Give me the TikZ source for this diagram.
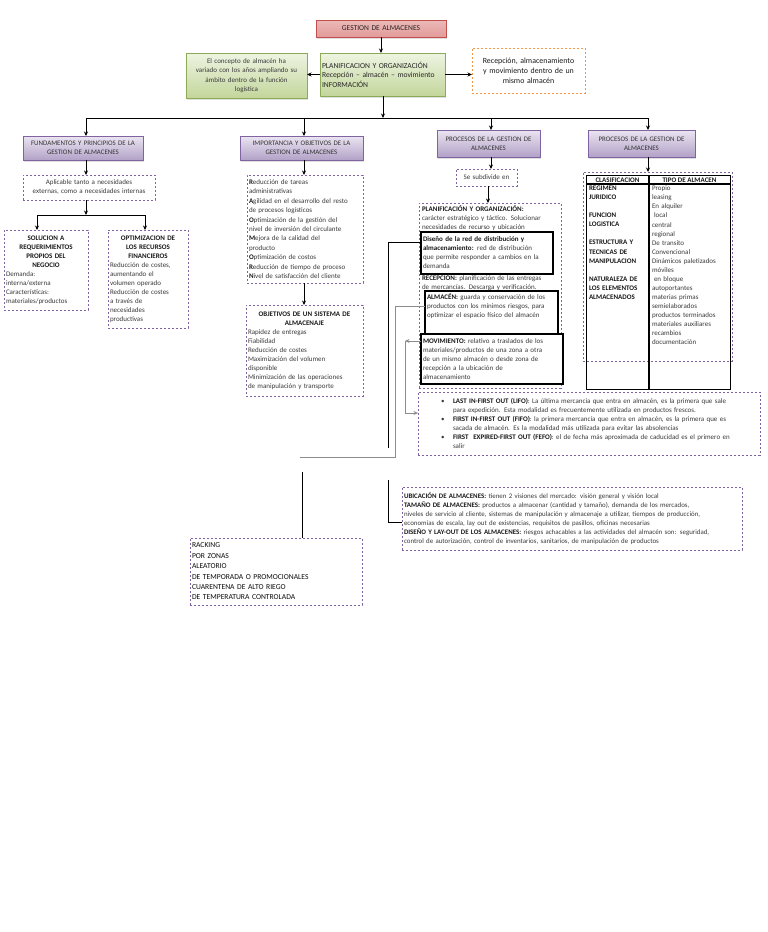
\documentclass[tikz,border=0pt]{standalone}
\usepackage{fontspec}
\setmainfont{Carlito}
\usetikzlibrary{arrows.meta,shadows}
\definecolor{purp}{HTML}{8064A2}
\definecolor{purpL}{HTML}{EBE5F2}
\definecolor{purpD}{HTML}{B2A1C7}
\definecolor{grnB}{HTML}{8DAA57}
\definecolor{grnL}{HTML}{EEF4E2}
\definecolor{grnD}{HTML}{C3D69B}
\definecolor{redB}{HTML}{C0504D}
\definecolor{redL}{HTML}{F6E0E0}
\definecolor{redD}{HTML}{E39B9A}
\definecolor{orng}{HTML}{F79646}
\definecolor{txtc}{HTML}{3A3A3A}
\definecolor{lgray}{HTML}{8C8C8C}
\newcommand{\hb}[1]{{\color{black!90}\textbf{#1}}}
\newcommand{\lft}[2]{\makebox[#1][l]{#2}}
\newcommand{\bx}[7][]{%
  \pgfmathsetmacro{\bw}{#5-#3}%
  \pgfmathsetmacro{\bh}{#6-#4}%
  \pgfmathsetmacro{\tw}{#5-#3-4}%
  \node[anchor=north west, minimum width=\bw pt, minimum height=\bh pt,
        text width=\tw pt, #1] (#2) at (#3,#4) {#7};}
\tikzset{
  base/.style={font=\fontsize{7}{9}\selectfont, text=txtc, inner sep=2pt, outer sep=0pt, align=left},
  dbox/.style={base, draw=purp, line width=0.7pt, dash pattern=on 2.4pt off 1.6pt},
  sbox/.style={base, draw=black, line width=1.2pt},
  hbox/.style={base, draw=purp, line width=0.6pt, top color=purpL, bottom color=purpD,
     align=center, font=\fontsize{6.9}{8.8}\selectfont, text=black!80,
     drop shadow={opacity=0.25,shadow xshift=1.2pt,shadow yshift=-1.5pt}},
  gbox/.style={base, draw=grnB, line width=0.7pt, top color=grnL, bottom color=grnD,
     drop shadow={opacity=0.25,shadow xshift=1.2pt,shadow yshift=-1.5pt}},
  arr/.style={-{Stealth[length=4.5pt,width=4pt]}, line width=0.9pt, draw=black},
  ln/.style={line width=0.9pt, draw=black},
  gln/.style={line width=0.9pt, draw=lgray},
  garr/.style={-{Stealth[length=4.5pt,width=4pt]}, line width=0.9pt, draw=lgray},
}
\begin{document}
\begin{tikzpicture}[x=1pt,y=-1pt]
\fill[white] (0,0) rectangle (768,932);
\useasboundingbox (0,0) rectangle (768,932);

% top level
\bx[base, draw=redB, line width=0.7pt, top color=redD!70, middle color=redL, bottom color=redD,
    align=center, font=\fontsize{7.5}{8}\selectfont, text=black!85,
    drop shadow={opacity=0.25,shadow xshift=1.2pt,shadow yshift=-1.5pt}]{t}{316}{20}{446}{37}{GESTION DE ALMACENES}
\bx[gbox, font=\fontsize{7.6}{9.6}\selectfont, text=black!85]{c}{320}{53}{445}{96}{PLANIFICACION Y ORGANIZACIÓN\\ Recepción -- almacén -- movimiento\\ INFORMACIÓN}
\bx[gbox, align=center, font=\fontsize{7}{9.5}\selectfont]{l}{186}{53}{307}{98}{El concepto de almacén ha\\ variado con los años ampliando su\\ ámbito dentro de la función\\ logística}
\bx[base, draw=orng, line width=0.8pt, dash pattern=on 2.4pt off 1.6pt, align=center,
    font=\fontsize{7.9}{10}\selectfont, text=black!90]{r}{472}{48}{585}{93}{Recepción, almacenamiento\\ y movimiento dentro de un\\ mismo almacén}

% purple headers
\bx[hbox]{fa}{23}{136}{143}{160}{FUNDAMENTOS Y PRINCIPIOS DE LA\\ GESTION DE ALMACENES}
\bx[hbox]{fb}{240}{136}{363}{160}{IMPORTANCIA Y OBJETIVOS DE LA\\ GESTION DE ALMACENES}
\bx[hbox]{fc}{437}{130}{540}{157}{PROCESOS DE LA GESTION DE\\ ALMACENES}
\bx[hbox]{fd}{588}{130}{695}{157}{PROCESOS DE LA GESTION DE\\ ALMACENES}

% branch A
\bx[dbox, align=center]{apl}{23}{175}{155}{200}{Aplicable tanto a necesidades\\ externas, como a necesidades internas}
\bx[dbox, align=center]{sol}{4}{230}{88}{310}{\hb{SOLUCION A}\\ \hb{REQUERIMIENTOS}\\ \hb{PROPIOS DEL}\\ \hb{NEGOCIO}\\ \lft{80pt}{Demanda:}\\ \lft{80pt}{interna/externa}\\ \lft{80pt}{Características:}\\ \lft{80pt}{materiales/productos}}
\bx[dbox, align=center]{opt}{108}{230}{188}{328}{\hb{OPTIMIZACION DE}\\ \hb{LOS RECURSOS}\\ \hb{FINANCIEROS}\\ \lft{76pt}{Reducción de costes,}\\ \lft{76pt}{aumentando el}\\ \lft{76pt}{volumen operado}\\ \lft{76pt}{Reducción de costes}\\ \lft{76pt}{a través de}\\ \lft{76pt}{necesidades}\\ \lft{76pt}{productivas}}

% branch B
\bx[dbox, font=\fontsize{7}{9.4}\selectfont]{imp}{247}{175}{363}{283}{\hb{R}educción de tareas\\ administrativas\\ \hb{A}gilidad en el desarrollo del resto\\ de procesos logísticos\\ \hb{O}ptimización de la gestión del\\ nivel de inversión del circulante\\ \hb{M}ejora de la calidad del\\ producto\\ \hb{O}ptimización de costos\\ \hb{R}educción de tiempo de proceso\\ \hb{N}ivel de satisfacción del cliente}
\bx[dbox, align=center]{obj}{246}{305}{363}{396}{\hb{OBJETIVOS DE UN SISTEMA DE}\\ \hb{ALMACENAJE}\\ \lft{113pt}{Rapidez de entregas}\\ \lft{113pt}{Fiabilidad}\\ \lft{113pt}{Reducción de costes}\\ \lft{113pt}{Maximización del volumen}\\ \lft{113pt}{disponible}\\ \lft{113pt}{Minimización de las operaciones}\\ \lft{113pt}{de manipulación y transporte}}

% branch C
\bx[dbox, align=center]{sub}{456}{169}{517}{186}{Se subdivide en}
\bx[dbox]{pl}{419}{203}{561}{388}{}
\node[base, anchor=north west, text width=138pt] (p1) at (420,204) {\hb{PLANIFICACIÓN Y ORGANIZACIÓN:}\\ carácter estratégico y táctico. Solucionar\\ necesidades de recurso y ubicación};
\bx[sbox]{dis}{421}{232}{553}{274}{\hb{Diseño de la red de distribución y}\\ \hb{almacenamiento:} red de distribución\\ que permite responder a cambios en la\\ demanda}
\node[base, anchor=north west, text width=138pt] (rec) at (420,273) {\hb{RECEPCIÓN:} planificación de las entregas\\ de mercancías. Descarga y verificación.};
\bx[sbox, text depth=31pt]{alm}{425}{291}{558}{334}{\hb{ALMACÉN:} guarda y conservación de los\\ productos con los mínimos riesgos, para\\ optimizar el espacio físico del almacén}
\bx[sbox, fill=white]{mov}{421}{334}{563}{384}{\hb{MOVIMIENTO:} relativo a traslados de los\\ materiales/productos de una zona a otra\\ de un mismo almacén o desde zona de\\ recepción a la ubicación de\\ almacenamiento}

% branch D (table)
\bx[dbox]{dd}{583}{172}{732}{361}{}
\node[draw=black, line width=1.2pt, anchor=north west, minimum width=144pt, minimum height=214pt, inner sep=0pt] (tab) at (586,175) {};
\coordinate (dv) at (649,180);
\coordinate (hl) at (600,184);
\draw[line width=1.2pt] (tab.north -| dv) -- (tab.south -| dv);
\draw[line width=1.2pt] (tab.west |- hl) -- (tab.east |- hl);
\node[base, font=\fontsize{7}{9}\selectfont\bfseries, text=black!90, inner sep=0pt] (h1) at (617.5,179.8) {CLASIFICACION};
\node[base, font=\fontsize{7}{9}\selectfont\bfseries, text=black!90, inner sep=0pt] (h2) at (689.5,179.8) {TIPO DE ALMACEN};
\node[base, anchor=north west, text width=70pt, text=black!90, font=\fontsize{7}{9.06}\selectfont\bfseries] (lc) at (587,184) {REGIMEN\\ JURIDICO\\ ~\\ FUNCION\\ LOGISTICA\\ ~\\ ESTRUCTURA Y\\ TECNICAS DE\\ MANIPULACION\\ ~\\ NATURALEZA DE\\ LOS ELEMENTOS\\ ALMACENADOS};
\node[base, anchor=north west, text width=80pt, font=\fontsize{7}{9.06}\selectfont] (rc) at (650,184) {Propio\\ leasing\\ En alquiler\\ \hspace*{2pt}local\\ central\\ regional\\ De transito\\ Convencional\\ Dinámicos paletizados\\ móviles\\ \hspace*{2pt}en bloque\\ autoportantes\\ materias primas\\ semielaborados\\ productos terminados\\ materiales auxiliares\\ recambios\\ documentación};

% lower boxes
\bx[dbox]{lifo}{418}{392}{760}{455}{\hspace*{21pt}\makebox[12pt][l]{\textbullet}\hb{LAST IN-FIRST OUT (LIFO)}: La última mercancía que entra en almacén, es la primera que sale\\ \hspace*{33pt}para expedición. Esta modalidad es frecuentemente utilizada en productos frescos.\\ \hspace*{21pt}\makebox[12pt][l]{\textbullet}\hb{FIRST IN-FIRST OUT (FIFO)}: la primera mercancía que entra en almacén, es la primera que es\\ \hspace*{33pt}sacada de almacén. Es la modalidad más utilizada para evitar las absolencias\\ \hspace*{21pt}\makebox[12pt][l]{\textbullet}\hb{FIRST\ \ EXPIRED-FIRST OUT (FEFO)}: el de fecha más aproximada de caducidad es el primero en\\ \hspace*{33pt}salir}
\bx[dbox, font=\fontsize{6.9}{9}\selectfont]{ubi}{402}{487}{742}{550}{\hb{UBICACIÓN DE ALMACENES:} tienen 2 visiones del mercado: visión general y visión local\\ \hb{TAMAÑO DE ALMACENES:} productos a almacenar (cantidad y tamaño), demanda de los mercados,\\ niveles de servicio al cliente, sistemas de manipulación y almacenaje a utilizar, tiempos de producción,\\ economías de escala, lay out de existencias, requisitos de pasillos, oficinas necesarias\\ \hb{DISEÑO Y LAY-OUT DE LOS ALMACENES:} riesgos achacables a las actividades del almacén son: seguridad,\\ control de autorización, control de inventarios, sanitarios, de manipulación de productos}
\bx[dbox, font=\fontsize{7.6}{10.4}\selectfont, text=black!95]{rack}{190}{538}{362}{605}{RACKING\\ POR ZONAS\\ ALEATORIO\\ DE TEMPORADA O PROMOCIONALES\\ CUARENTENA DE ALTO RIEGO\\ DE TEMPERATURA CONTROLADA}

% connectors top
\draw[arr] (t.south) -- (t.south |- c.north);
\draw[arr] (c.west) -- (c.west -| l.east);
\draw[arr] (c.east) -- (c.east -| r.west);
\coordinate (j) at (383,118);
\draw[arr] (c.south -| j) -- (j);
\coordinate (jA) at (86,118);
\coordinate (jB) at (304,118);
\coordinate (jC) at (491,118);
\coordinate (jD) at (648,118);
\draw[ln] (jA) -- (jD);
\draw[arr] (jA) -- (jA |- fa.north);
\draw[arr] (jB) -- (jB |- fb.north);
\draw[arr] (jC) -- (jC |- fc.north);
\draw[arr] (jD) -- (jD |- fd.north);

% branch A connectors
\draw[arr] (fa.south -| jA) -- (apl.north -| jA);
\coordinate (ja) at (86,215);
\coordinate (ja1) at (37,215);
\coordinate (ja2) at (145,215);
\draw[arr] (apl.south -| ja) -- (ja);
\draw[ln] (ja1) -- (ja2);
\draw[arr] (ja1) -- (ja1 |- sol.north);
\draw[arr] (ja2) -- (ja2 |- opt.north);

% branch B connectors
\draw[arr] (fb.south -| jB) -- (imp.north -| jB);
\draw[arr] (imp.south -| jB) -- (obj.north -| jB);

% branch C connectors
\draw[arr] (fc.south -| jC) -- (sub.north -| jC);
\coordinate (jc2) at (488,190);
\draw[arr] (sub.south -| jc2) -- (pl.north -| jc2);

% branch D connector
\draw[arr] (fd.south -| jD) -- (dd.north -| jD);

% side connectors
\coordinate (e1a) at (388,242);
\coordinate (e1b) at (388,448);
\draw[ln] (dis.west |- e1a) -- (e1a) -- (e1b);
\coordinate (e2a) at (395,306);
\coordinate (e2b) at (395,457);
\coordinate (e2c) at (300,457);
\draw[gln] (alm.west |- e2a) -- (e2a) -- (e2b) -- (e2c);
\coordinate (e3) at (302,472);
\draw[ln] (e3) -- (e3 |- rack.north);
\coordinate (e4a) at (388,480);
\coordinate (e4b) at (388,522);
\draw[ln] (e4a) -- (e4b) -- (e4b -| ubi.west);
\coordinate (m1) at (405,341);
\coordinate (m2) at (405,413);
\draw[garr] (mov.west |- m1) -- (m1);
\draw[garr] (m1) -- (m2) -- (m2 -| lifo.west);
\end{tikzpicture}
\end{document}
